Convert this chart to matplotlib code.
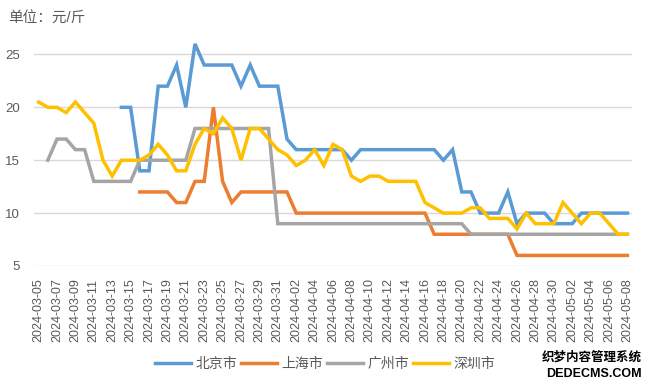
import numpy as np
import pandas as pd
import matplotlib
matplotlib.use("Agg")
import matplotlib.pyplot as plt

plt.rcParams['font.family'] = ['Liberation Sans', 'Noto Sans CJK SC', 'DejaVu Sans']

# ---- data (元/斤), daily 2024-03-05 .. 2024-05-08 ----
dates = pd.date_range("2024-03-05", "2024-05-08", freq="D").strftime("%Y-%m-%d").tolist()
nan = np.nan

beijing = [nan] * 9 + [20, 20, 14, 14, 22, 22, 24, 20, 26, 24, 24, 24, 24, 22, 24, 22, 22, 22,
                       17, 16, 16, 16, 16, 16, 16, 15, 16, 16, 16, 16, 16, 16, 16, 16, 16,
                       15, 16, 12, 12, 10, 10, 10, 12, 9, 10, 10, 10, 9, 9, 9,
                       10, 10, 10, 10, 10, 10]
shanghai = [nan] * 11 + [12, 12, 12, 12, 11, 11, 13, 13, 20, 13, 11, 12, 12, 12, 12, 12, 12,
                         10, 10, 10, 10, 10, 10, 10, 10, 10, 10, 10, 10, 10, 10, 10,
                         8, 8, 8, 8, 8, 8, 8, 8, 8,
                         6, 6, 6, 6, 6, 6, 6, 6, 6, 6, 6, 6, 6]
guangzhou = [nan] + [15, 17, 17, 16, 16, 13, 13, 13, 13, 13, 15, 15, 15, 15, 15, 15,
                     18, 18, 18, 18, 18, 18, 18, 18, 18,
                     9, 9, 9, 9, 9, 9, 9, 9, 9, 9, 9, 9, 9, 9, 9, 9, 9, 9, 9, 9, 9,
                     8, 8, 8, 8, 8, 8, 8, 8, 8, 8, 8, 8, 8, 8, 8, 8, 8, 8]
shenzhen = [20.5, 20, 20, 19.5, 20.5, 19.5, 18.5, 15, 13.5, 15, 15, 15, 15.5, 16.5, 15.5,
            14, 14, 16.5, 18, 17.5, 19, 18, 15, 18, 18, 17, 16, 15.5, 14.5, 15, 16, 14.5,
            16.5, 16, 13.5, 13, 13.5, 13.5, 13, 13, 13, 13, 11, 10.5, 10, 10, 10, 10.5,
            10.5, 9.5, 9.5, 9.5, 8.5, 10, 9, 9, 9, 11, 10, 9, 10, 10, 9, 8, 8]

series = [("北京市", beijing, "#5B9BD5"),
          ("上海市", shanghai, "#ED7D31"),
          ("广州市", guangzhou, "#A5A5A5"),
          ("深圳市", shenzhen, "#FFC000")]

fig = plt.figure(figsize=(6.5, 3.86), dpi=100)
ax = fig.add_axes([34 / 650, 1 - 266 / 386, 598 / 650, 238 / 386])

x = np.arange(len(dates))
for name, vals, color in series:
    ax.plot(x, np.array(vals, dtype=float), color=color, lw=2.5, label=name,
            solid_joinstyle="miter")

ax.set_xlim(-0.5, len(dates) - 0.5)
ax.set_ylim(5, 27.5)
ax.set_yticks([5, 10, 15, 20, 25])
ax.set_xticks(x[::2])
ax.set_xticklabels(dates[::2], rotation=90, fontsize=9, color="#595959")
ax.tick_params(axis="y", labelsize=9.5, labelcolor="#595959", length=0, pad=10)
ax.tick_params(axis="x", length=0, pad=9)
ax.grid(axis="y", color="#D9D9D9", lw=1)
ax.set_axisbelow(True)
for s in ax.spines.values():
    s.set_visible(False)

fig.text(0.013, 0.955, "单位：元/斤", fontsize=10.5, color="#595959", va="center")

fig.legend(loc="center", bbox_to_anchor=(0.5, 1 - 364 / 386), ncol=4, frameon=False,
           fontsize=10, labelcolor="#595959", handlelength=2.6, handletextpad=0.3,
           columnspacing=0.3)

# site watermark in the corner of the reference
fig.text(0.988, 1 - 357 / 386, "织梦内容管理系统", fontsize=9, fontweight="bold",
         ha="right", va="center", color="black")
fig.text(0.988, 1 - 374 / 386, "DEDECMS.COM", fontsize=9, fontweight="bold",
         ha="right", va="center", color="black")

fig.savefig("out.png", dpi=100)
